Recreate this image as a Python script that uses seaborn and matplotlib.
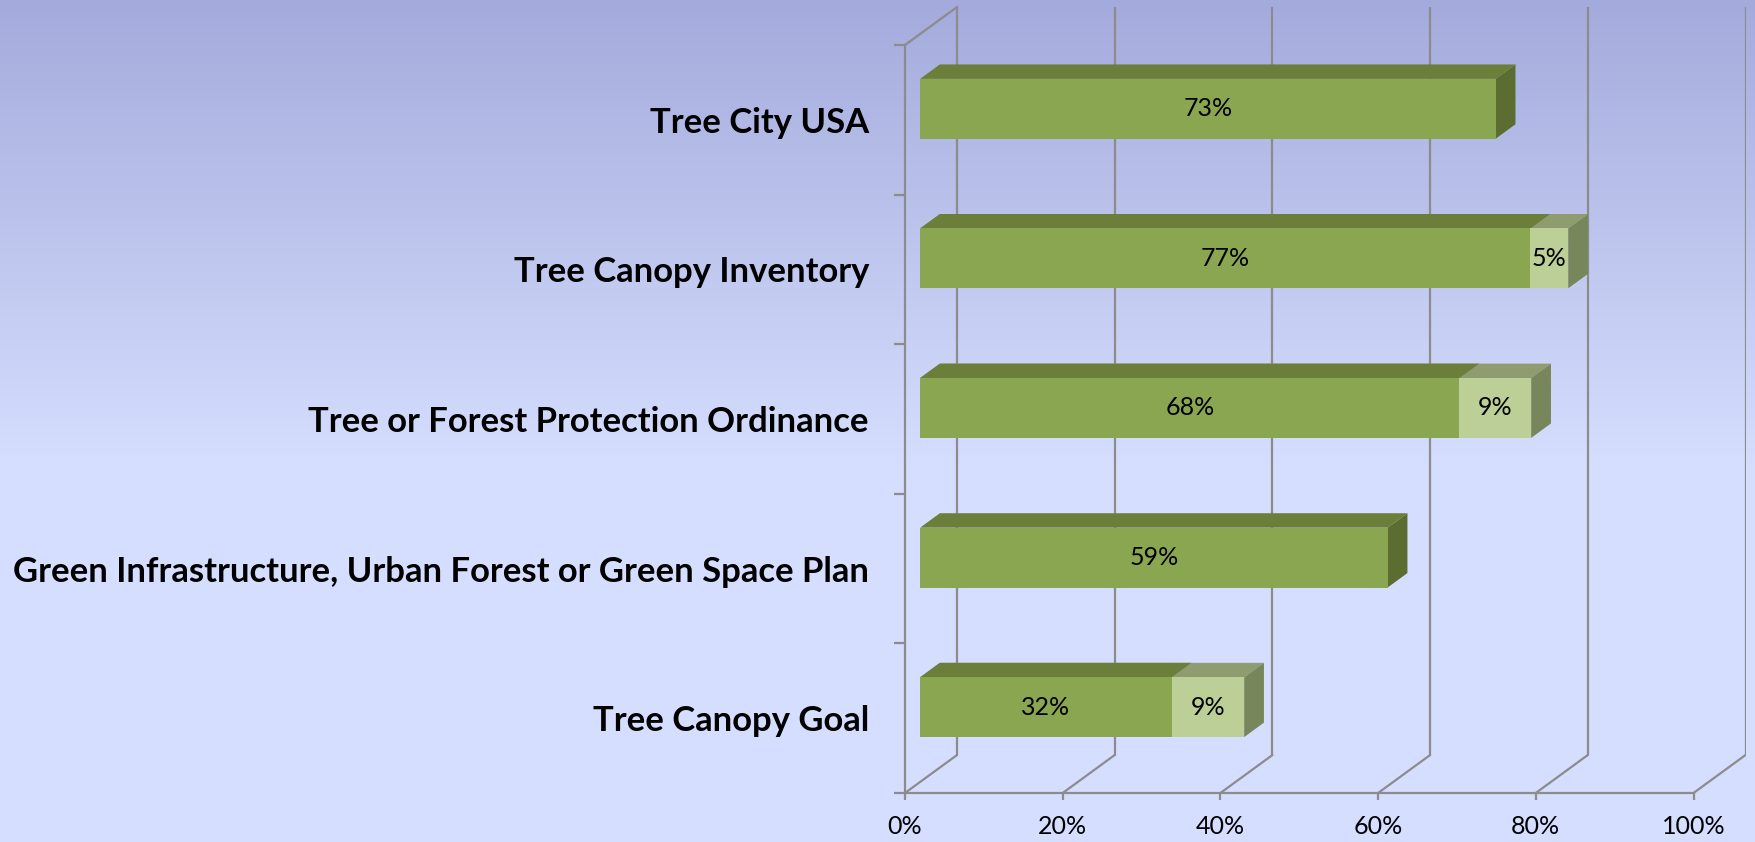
import numpy as np
import pandas as pd
import matplotlib
matplotlib.use("Agg")
import matplotlib.pyplot as plt
import seaborn as sns
from matplotlib.patches import Polygon
from matplotlib.transforms import Affine2D
from matplotlib.lines import Line2D

# ---------------- data ----------------
categories = [
    "Tree City USA",
    "Tree Canopy Inventory",
    "Tree or Forest Protection Ordinance",
    "Green Infrastructure, Urban Forest or Green Space Plan",
    "Tree Canopy Goal",
]
primary = [73.0, 77.4, 68.4, 59.3, 31.9]
secondary = [0.0, 4.8, 9.1, 0.0, 9.2]
xtick_values = [0, 20, 40, 60, 80, 100]
xtick_labels = ["0%", "20%", "40%", "60%", "80%", "100%"]

# ---------------- style ----------------
DARK, DARK_TOP, DARK_SIDE = "#8AA650", "#6B7F3B", "#5B6D31"
LIGHT, LIGHT_TOP, LIGHT_SIDE = "#BCCF96", "#8E9C6F", "#77865B"
GRID = "#8C8C8C"

sns.set_theme(style="white")
plt.rcParams["font.family"] = ["Lato", "DejaVu Sans"]

W, H, DPI = 1756, 842, 100
fig = plt.figure(figsize=(W / DPI, H / DPI), dpi=DPI)

# background gradient
bg = fig.add_axes([0, 0, 1, 1], zorder=-10)
c_top = np.array([164, 171, 220]) / 255
c_bot = np.array([213, 222, 254]) / 255
t = np.clip(np.linspace(0, 1, H) / 0.55, 0, 1)
grad = c_top[None, :] * (1 - t[:, None]) + c_bot[None, :] * t[:, None]
bg.imshow(grad[:, None, :], aspect="auto", extent=[0, 1, 0, 1])
bg.set_xlim(0, 1)
bg.set_ylim(0, 1)
bg.axis("off")

# 3D geometry (depth offsets in data units)
DX = 6.6      # % units
DY = 0.254    # category units
D0, D1 = 0.29, 0.67
BAR_W = 0.40
px_per_pct = 788.5 / 100
px_per_cat = 149.6
ax = fig.add_axes([905 / W, 49 / H, (100 + DX) * px_per_pct / W, (5 + DY) * px_per_cat / H])
ax.patch.set_alpha(0)

df = pd.DataFrame({"category": categories, "primary": primary, "secondary": secondary})
df["total"] = df["primary"] + df["secondary"]

sns.barplot(data=df, x="total", y="category", orient="h", color=LIGHT, width=BAR_W,
            saturation=1, errorbar=None, linewidth=0, ax=ax, zorder=4)
n_light = len(ax.patches)
sns.barplot(data=df, x="primary", y="category", orient="h", color=DARK, width=BAR_W,
            saturation=1, errorbar=None, linewidth=0, ax=ax, zorder=5)
light_patches = ax.patches[:n_light]
dark_patches = ax.patches[n_light:]

shift = Affine2D().translate(D0 * DX, -D0 * DY) + ax.transData
for p in ax.patches:
    p.set_transform(shift)


def proj(x, y, d):
    return (x + d * DX, y - d * DY)


def top_face(x0, x1, y, color, z):
    ax.add_patch(Polygon([proj(x0, y, D0), proj(x1, y, D0), proj(x1, y, D1), proj(x0, y, D1)],
                         closed=True, facecolor=color, edgecolor="none", zorder=z))


def side_face(x, y0, y1, color, z):
    ax.add_patch(Polygon([proj(x, y0, D0), proj(x, y1, D0), proj(x, y1, D1), proj(x, y0, D1)],
                         closed=True, facecolor=color, edgecolor="none", zorder=z))


VAL_SIZE = 18
for i, (pl, pdk) in enumerate(zip(light_patches, dark_patches)):
    y0 = pl.get_y()
    y1 = y0 + pl.get_height()
    xs = pdk.get_x()
    xd = xs + pdk.get_width()
    xl = pl.get_x() + pl.get_width()
    has_light = secondary[i] > 0
    if has_light:
        top_face(xs, xl, y0, LIGHT_TOP, 2)
        side_face(xl, y0, y1, LIGHT_SIDE, 2)
    else:
        pl.set_visible(False)
        side_face(xd, y0, y1, DARK_SIDE, 2)
    top_face(xs, xd, y0, DARK_TOP, 3)

    yc = pdk.get_y() + pdk.get_height() / 2
    cx, cy = proj((xs + xd) / 2, yc, D0)
    ax.text(cx, cy, f"{primary[i]:.0f}%", ha="center", va="center", fontsize=VAL_SIZE,
            color="black", zorder=10)
    if has_light:
        cx, cy = proj((xd + xl) / 2, yc, D0)
        ax.text(cx, cy, f"{secondary[i]:.0f}%", ha="center", va="center", fontsize=VAL_SIZE,
                color="black", zorder=10)

# walls and gridlines
n = len(categories)
y_top, y_bot = -0.5, n - 0.5
for k in xtick_values:
    bx0, by0 = proj(k, y_bot, 1)
    bx1, by1 = proj(k, y_top, 1)
    ax.add_line(Line2D([bx0, bx1], [by0, by1], color=GRID, lw=1.6, zorder=1))
    fx, fy = proj(k, y_bot, 0)
    ax.add_line(Line2D([fx, bx0], [fy, by0], color=GRID, lw=1.6, zorder=1))
lx0, ly0 = proj(0, y_top, 0)
lx1, ly1 = proj(0, y_top, 1)
ax.add_line(Line2D([lx0, lx1], [ly0, ly1], color=GRID, lw=1.6, zorder=1, clip_on=False))

ax.set_xlim(0, 100 + DX)
ax.set_ylim(y_bot, y_top - DY)

for s in ["top", "right"]:
    ax.spines[s].set_visible(False)
for s in ["left", "bottom"]:
    ax.spines[s].set_color(GRID)
    ax.spines[s].set_linewidth(1.6)
    ax.spines[s].set_zorder(1)
ax.spines["left"].set_bounds(y_top, y_bot)
ax.spines["bottom"].set_bounds(0, 100)

ax.set_xticks(xtick_values)
ax.set_xticklabels(xtick_labels)
ax.tick_params(axis="x", which="major", direction="out", length=5, width=1.6, color=GRID,
               labelsize=18, pad=11, bottom=True, labelcolor="black")

ax.set_yticks(range(n))
ax.set_yticks(np.arange(n + 1) - 0.5, minor=True)
ax.tick_params(axis="y", which="major", length=0, pad=26, left=True, labelcolor="black")
ax.tick_params(axis="y", which="minor", direction="out", length=8, width=1.6, color=GRID, left=True)
ax.set_xlabel("")
ax.set_ylabel("")

# fit bold category label size to the reference width
labels = ax.set_yticklabels(categories, fontweight="bold", fontsize=24)
renderer = fig.canvas.get_renderer()
widest = max(lbl.get_window_extent(renderer).width for lbl in labels)
size = min(25, 24 * 856 / widest)
for lbl in labels:
    lbl.set_fontsize(size)

fig.savefig("out.png", dpi=DPI)
